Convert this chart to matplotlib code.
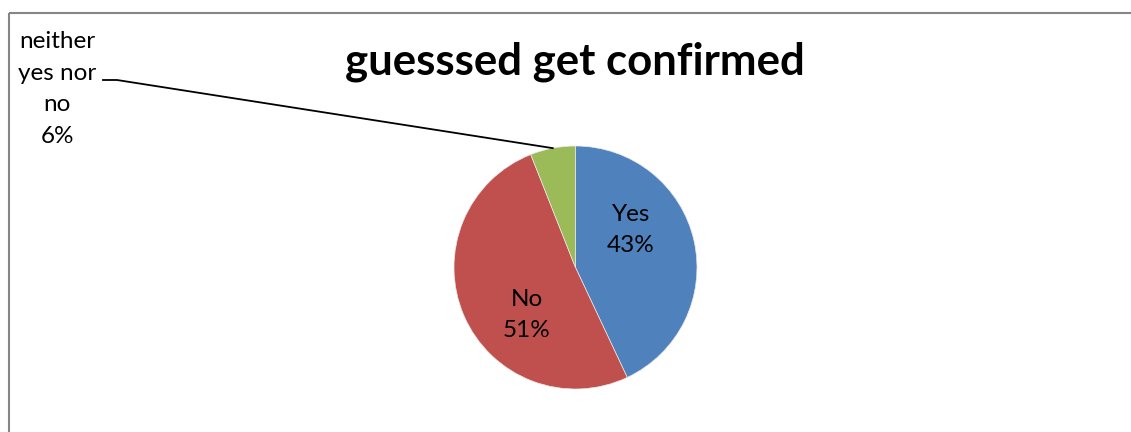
import numpy as np
import matplotlib
matplotlib.use("Agg")
import matplotlib.pyplot as plt

categories = ["Yes", "No", "neither\nyes nor\nno"]
values = [43, 51, 6]
colors = ["#4F81BD", "#C0504D", "#9BBB59"]
title = "guesssed get confirmed"

W, H = 1131, 432
plt.rcParams['font.family'] = ['Lato', 'DejaVu Sans']
fig = plt.figure(figsize=(W / 100, H / 100), dpi=100)
ax = fig.add_axes([0, 0, 1, 1])

cx, cy, r = 575.5, H - 267.5, 121.5
wedges, _ = ax.pie(values, colors=colors, startangle=90, counterclock=False,
                   center=(cx, cy), radius=r, frame=True,
                   wedgeprops=dict(linewidth=0.5, edgecolor='#e8e8e8'))
ax.set_xlim(0, W)
ax.set_ylim(0, H)
ax.set_aspect('equal')
ax.axis('off')

# border (cropped chart area)
ax.plot([9, 9], [0, H - 13], color='#868686', lw=1.5, solid_capstyle='butt')
ax.plot([9, W], [H - 13, H - 13], color='#868686', lw=1.5, solid_capstyle='butt')

ax.text(574.5, H - 62, title, ha='center', va='center', fontsize=31.5,
        fontweight='bold', color='black')

fs = 17.5
ls = 1.62
labels = [f"{c}\n{v}%" for c, v in zip(categories, values)]
ax.text(631, H - 230, labels[0], ha='center', va='center', fontsize=fs,
        linespacing=ls)
ax.text(527, H - 315, labels[1], ha='center', va='center', fontsize=fs,
        linespacing=ls)
ax.text(57, H - 89, labels[2], ha='center', va='center', fontsize=fs,
        linespacing=ls)

# leader line to the middle of the small slice
w = wedges[2]
mid = np.deg2rad((w.theta1 + w.theta2) / 2)
ex, ey = cx + r * np.cos(mid), cy + r * np.sin(mid)
ax.plot([103, 117, ex], [H - 80, H - 80, ey], color='black', lw=1.3)

fig.savefig("out.png", dpi=100)
